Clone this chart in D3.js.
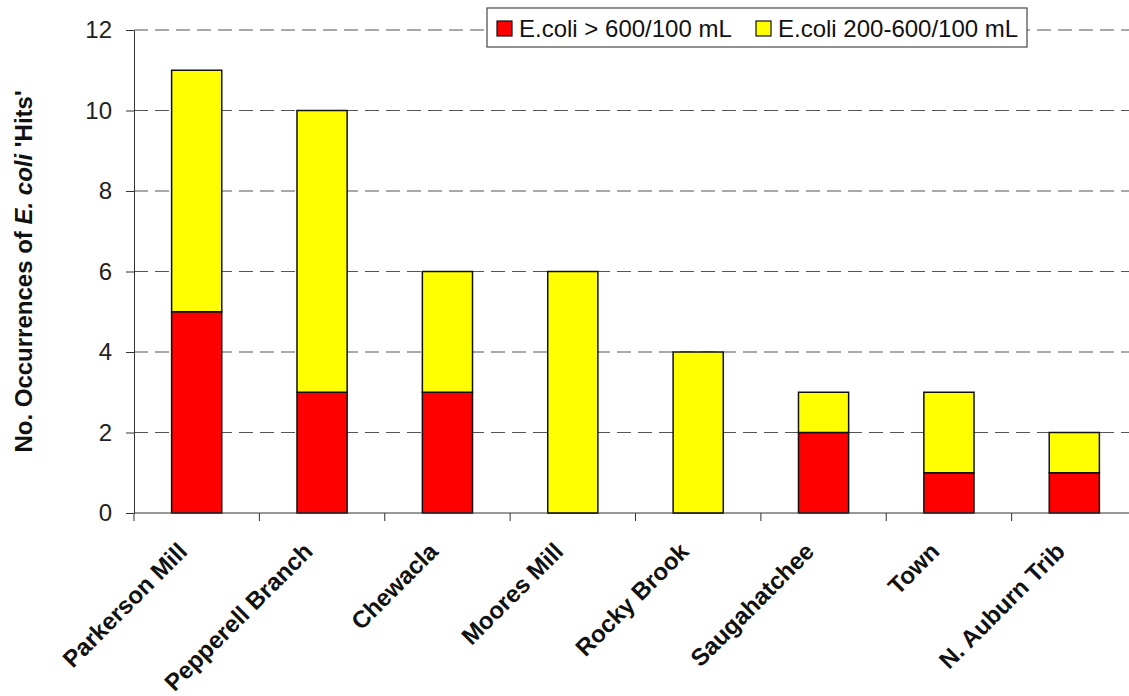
<!DOCTYPE html>
<html>
<head>
<meta charset="utf-8">
<script src="https://cdn.jsdelivr.net/npm/d3@7"></script>
<style>
  html, body { margin: 0; padding: 0; background: #fff; }
  svg { display: block; font-family: "Liberation Sans", Arial, sans-serif; }
</style>
</head>
<body>
<svg id="chart" width="1129" height="696"></svg>
<script>
// Sampling sites and counts of E. coli exceedances
const sites = ["Parkerson Mill", "Pepperell Branch", "Chewacla", "Moores Mill",
               "Rocky Brook", "Saugahatchee", "Town", "N. Auburn Trib"];
const over600 = [5, 3, 3, 0, 0, 2, 1, 1];
const between200and600 = [6, 7, 3, 6, 4, 1, 2, 1];
const yTicks = [0, 2, 4, 6, 8, 10, 12];
const seriesNames = ["E.coli > 600/100 mL", "E.coli 200-600/100 mL"];
const seriesColors = ["#ff0000", "#ffff00"];

const svg = d3.select("#chart");
const plotLeft = 134, plotRight = 1137, plotTop = 30, plotBottom = 513;

const x = d3.scaleBand().domain(sites).range([plotLeft, plotRight]).padding(0);
const y = d3.scaleLinear().domain([0, 12]).range([plotBottom, plotTop]);

// Dashed horizontal gridlines
svg.append("g")
  .selectAll("line")
  .data(yTicks.filter(t => t > 0))
  .join("line")
  .attr("x1", plotLeft).attr("x2", plotRight)
  .attr("y1", d => y(d)).attr("y2", d => y(d))
  .attr("stroke", "#555")
  .attr("stroke-width", 1.2)
  .attr("stroke-dasharray", "14,7");

// Stacked bars
const rows = sites.map((s, i) => ({ site: s, vals: [over600[i], between200and600[i]] }));
const barW = x.bandwidth() * 0.4;
rows.forEach(r => {
  let base = 0;
  r.vals.forEach((v, k) => {
    const x0 = x(r.site) + (x.bandwidth() - barW) / 2;
    const x1 = x0 + barW;
    const y0 = y(base), y1 = y(base + v);
    svg.append("path")
      .attr("d", `M${x0},${y0}H${x1}V${y1}H${x0}Z`)
      .attr("fill", seriesColors[k])
      .attr("stroke", "#111")
      .attr("stroke-width", 1.5);
    base += v;
  });
});

// Y axis
const yAxis = svg.append("g")
  .attr("transform", `translate(${plotLeft},0)`)
  .call(d3.axisLeft(y).tickValues(yTicks).tickSize(8).tickPadding(14).tickSizeOuter(0));
yAxis.select(".domain").attr("stroke", "#333");
yAxis.selectAll(".tick line").attr("stroke", "#333");
yAxis.selectAll(".tick text")
  .attr("font-size", 24)
  .attr("font-family", "'Liberation Sans', Arial, sans-serif")
  .attr("fill", "#222");

// X axis with ticks at category boundaries
const xAxisG = svg.append("g").attr("transform", `translate(0,${plotBottom})`);
xAxisG.append("line")
  .attr("x1", plotLeft).attr("x2", plotRight)
  .attr("stroke", "#333");
const bounds = sites.map(s => x(s)).concat([plotRight]);
xAxisG.selectAll("line.tk")
  .data(bounds)
  .join("line")
  .attr("class", "tk")
  .attr("x1", d => d).attr("x2", d => d)
  .attr("y1", 0).attr("y2", 8)
  .attr("stroke", "#333");

// Rotated category labels
svg.append("g")
  .selectAll("text")
  .data(sites)
  .join("text")
  .attr("transform", d => `translate(${x(d) + x.bandwidth() / 2 - 8},${plotBottom + 40}) rotate(-45)`)
  .attr("text-anchor", "end")
  .attr("font-size", 24)
  .attr("font-weight", "bold")
  .attr("fill", "#111")
  .text(d => d);

// Y axis title
const yTitle = svg.append("text")
  .attr("transform", `translate(32,${(plotTop + plotBottom) / 2}) rotate(-90)`)
  .attr("text-anchor", "middle")
  .attr("font-size", 24)
  .attr("font-weight", "bold")
  .attr("fill", "#111");
yTitle.append("tspan").text("No. Occurrences of ");
yTitle.append("tspan").attr("font-style", "italic").text("E. coli");
yTitle.append("tspan").text(" 'Hits'");

// Legend
const legend = svg.append("g");
legend.append("rect")
  .attr("x", 487).attr("y", 8)
  .attr("width", 540).attr("height", 39)
  .attr("fill", "#fff")
  .attr("stroke", "#555")
  .attr("stroke-width", 1.3);
const legendX = [497, 756];
seriesNames.forEach((name, k) => {
  legend.append("rect")
    .attr("x", legendX[k]).attr("y", 21)
    .attr("width", 15).attr("height", 15)
    .attr("fill", seriesColors[k])
    .attr("stroke", "#111")
    .attr("stroke-width", 1.2);
  legend.append("text")
    .attr("x", legendX[k] + 22).attr("y", 37)
    .attr("font-size", 24)
    .attr("fill", "#111")
    .text(name);
});
</script>
</body>
</html>
